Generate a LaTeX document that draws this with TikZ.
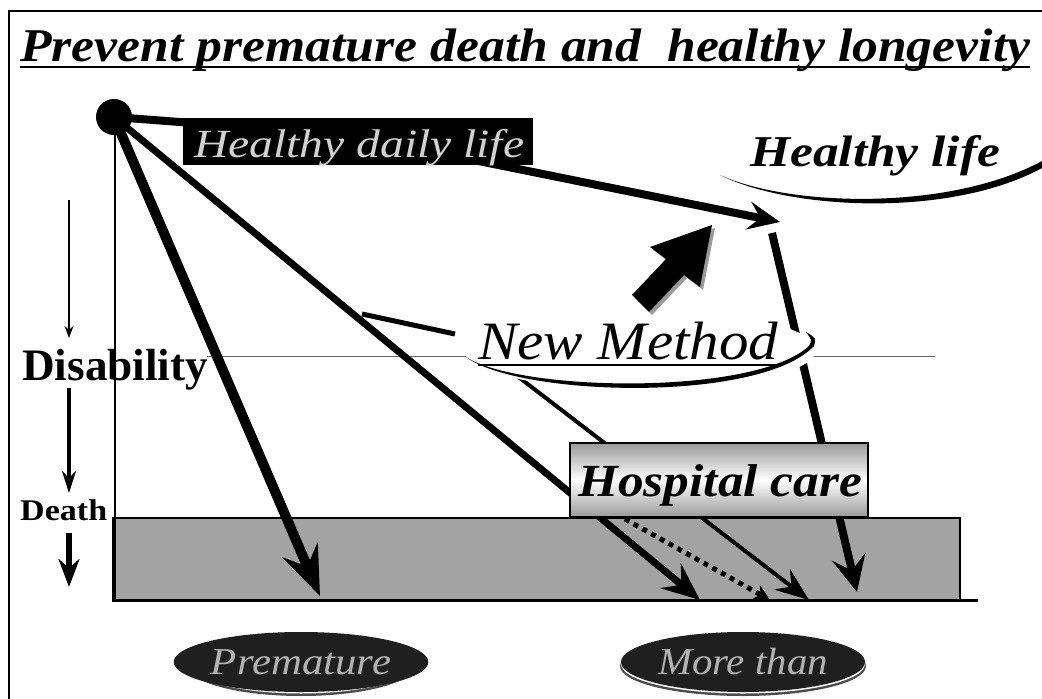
\documentclass[tikz,border=0pt]{standalone}
\usepackage{fontspec}
\setmainfont{Liberation Serif}
\usepackage{graphicx}
\usetikzlibrary{arrows.meta,shapes.geometric}
\newcommand{\fitw}[2]{\resizebox{#1}{\height}{#2}}
\tikzset{
  txt/.style={anchor=base west, inner sep=0pt},
  flow/.style={line width=#1, line cap=butt},
  bigtip/.style={-{Stealth[length=50pt,width=38pt,inset=18pt]}},
  midtip/.style={-{Stealth[length=38pt,width=32pt,inset=14pt]}},
  oval/.style={ellipse, fill=black!88, inner sep=0pt, text=black!30},
}
\begin{document}
\begin{tikzpicture}[x=1pt,y=-1pt]
\useasboundingbox (0,0) rectangle (1042,699);
% frame
\draw[line width=1.2pt] (9,699) -- (9,11) -- (1042,11);
% title
\node[txt] (title) at (20,61) {\fitw{1010pt}{\fontsize{47}{52}\selectfont\bfseries\itshape Prevent premature death and\ \ healthy longevity}};
\draw[line width=2pt] (20,67) -- (1030,67);

% death band
\node[draw, line width=1.5pt, fill=black!36, minimum width=847pt, minimum height=82pt, inner sep=0pt] (band) at (536.5,559) {};
\draw[line width=3pt] (112,600) -- (978,600);
\draw[line width=1.5pt] (115,118) -- (115,600);
% disability level line
\draw[black!60, line width=1pt] (207,356) -- (935,356);

% left labels
\node[txt] (dis) at (22,380) {\fitw{186pt}{\fontsize{45}{50}\selectfont\bfseries Disability}};
\node[txt] (death) at (20,520) {\fitw{87pt}{\fontsize{30}{34}\selectfont\bfseries Death}};
\coordinate (a1s) at (69,200); \coordinate (a1e) at (69,338);
\coordinate (a2s) at (69,388); \coordinate (a2e) at (69,493);
\coordinate (a3s) at (69,533); \coordinate (a3e) at (69,587);
\draw[line width=1.5pt, -{Stealth[length=12pt,width=9pt]}] (a1s) -- (a1e);
\draw[line width=4pt, -{Stealth[length=22pt,width=14pt]}] (a2s) -- (a2e);
\draw[line width=6pt, -{Stealth[length=28pt,width=21pt]}] (a3s) -- (a3e);

% coordinates
\coordinate (dotc) at (114,117);
\coordinate (bend) at (350,135);
\coordinate (htip) at (780,222);
\coordinate (ptip) at (320,596);
\coordinate (dtip) at (700,600);
\coordinate (rs) at (772,233);
\coordinate (rtip) at (857,592);
\coordinate (ns) at (512,372);
\coordinate (ntip) at (809,600);
\coordinate (ds) at (625,519);
\coordinate (dte) at (770,600);
\coordinate (c1) at (362,314);
\coordinate (c2) at (455,334);

% flows
\draw[flow=8pt, -{Stealth[length=32pt,width=28pt,inset=12pt]}] (dotc) -- (bend) -- (htip);
\draw[flow=10pt, bigtip] (dotc) -- (ptip);
\draw[flow=7pt, midtip] (dotc) -- (dtip);
\draw[flow=8pt, -{Stealth[length=36pt,width=34pt,inset=14pt]}] (rs) -- (rtip);
\draw[flow=4pt, -{Stealth[length=34pt,width=26pt,inset=12pt]}] (ns) -- (ntip);
\draw[line width=5pt, dash pattern=on 5pt off 5pt, -{Stealth[length=16pt,width=16pt]}] (ds) -- (dte);
\draw[line width=5pt] (c1) -- (c2);

% start dot
\node[circle, fill=black, minimum size=36pt, inner sep=0pt] (dot) at (dotc) {};

% Healthy daily life box
\node[fill=black, minimum width=350pt, minimum height=47pt, inner sep=0pt] (hdl) at (358,141) {};
\node[txt, text=white!82!black] (hdlt) at (194,157) {\fitw{330pt}{\fontsize{40}{44}\selectfont\itshape Healthy daily life}};

% Hospital care box
\node[draw=black, line width=1.5pt, top color=black!40, bottom color=black!40, middle color=white, minimum width=298pt, minimum height=74pt, inner sep=0pt] (hosp) at (719,480) {};
\node[txt] (hospt) at (578,496) {\fitw{284pt}{\fontsize{46}{50}\selectfont\bfseries\itshape Hospital care}};

% New Method callout
\fill[white] (640,350) ellipse [x radius=176, y radius=40];
\fill[black] (466,357) .. controls (520,397) and (760,403) .. (814,346) .. controls (816,338) .. (806,332)
  .. controls (812,340) .. (809,346) .. controls (755,396) and (520,392) .. (466,357) -- cycle;
\node[txt] (nm) at (478,359) {\fitw{300pt}{\fontsize{54}{60}\selectfont\itshape New Method}};
\draw[line width=1.5pt] (478,365) -- (780,365);

% Healthy life
\fill[black] (720,175) .. controls (790,210) and (950,218) .. (1042,168) -- (1042,161)
  .. controls (950,211) and (790,207) .. (720,175) -- cycle;
\node[txt] (hl) at (750,166) {\fitw{250pt}{\fontsize{44}{48}\selectfont\bfseries\itshape Healthy life}};

% block arrow
\fill[black!40] (715,228) -- (653,250) -- (669,262) -- (635,298) -- (652,315) -- (687,278) -- (703,290) -- cycle;
\fill[black] (712,225) -- (650,247) -- (666,259) -- (632,295) -- (649,312) -- (684,275) -- (700,287) -- cycle;

% outcome ovals
\fill[black!70] (301,666) ellipse [x radius=113, y radius=30];
\fill[white] (301,664) ellipse [x radius=112, y radius=29.5];
\node[oval, minimum width=224pt, minimum height=60pt] (prem) at (301,662) {\fitw{180pt}{\fontsize{38}{42}\selectfont\itshape Premature}};
\fill[black!70] (743,666) ellipse [x radius=123, y radius=30];
\fill[white] (743,664) ellipse [x radius=122, y radius=29.5];
\node[oval, minimum width=244pt, minimum height=60pt] (more) at (743,662) {\fitw{170pt}{\fontsize{38}{42}\selectfont\itshape More than}};
\end{tikzpicture}
\end{document}
